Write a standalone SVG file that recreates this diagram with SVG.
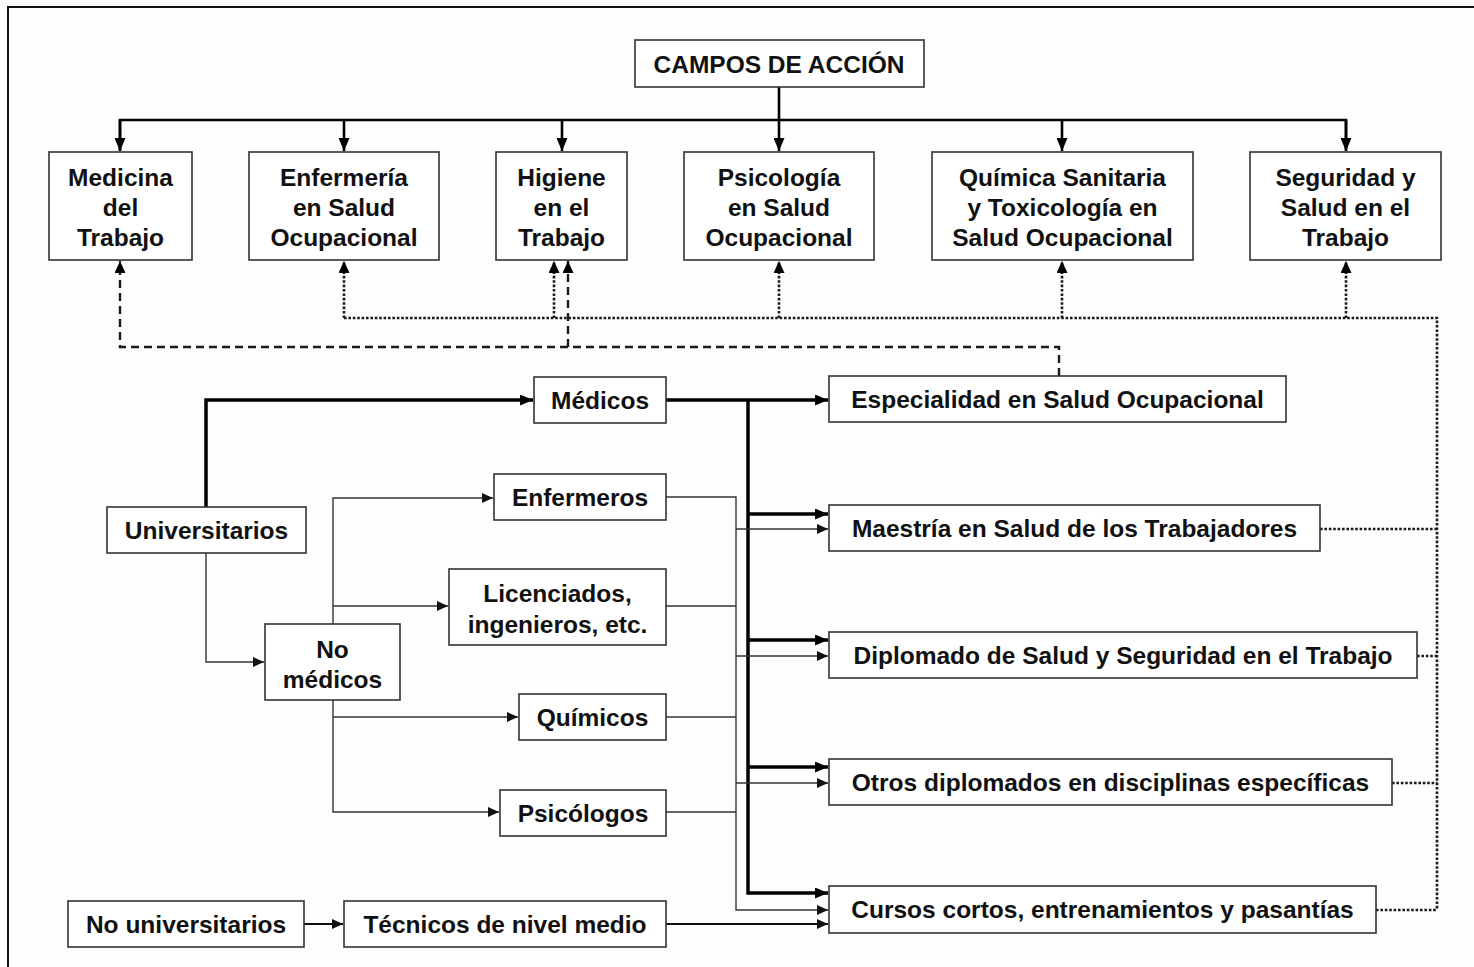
<svg xmlns="http://www.w3.org/2000/svg" width="1474" height="967" viewBox="0 0 1474 967">
<defs>
<style>
.box{fill:#fff;stroke:#333;stroke-width:1.6}
.t{font-family:"Liberation Sans",Arial,sans-serif;font-weight:bold;font-size:24.5px;fill:#111;text-anchor:middle}
.thick{fill:none;stroke:#000;stroke-width:3.5}
.tree{fill:none;stroke:#000;stroke-width:2.6}
.thin{fill:none;stroke:#333;stroke-width:1.4}
.med{fill:none;stroke:#111;stroke-width:2.2}
.dot{fill:none;stroke:#1a1a1a;stroke-width:2.6;stroke-dasharray:2.6 1.8}
.dash{fill:none;stroke:#1a1a1a;stroke-width:2.4;stroke-dasharray:8 5}
</style>
<marker id="ah" markerWidth="13" markerHeight="11" refX="13" refY="5.5" orient="auto" markerUnits="userSpaceOnUse"><path d="M0,0 L13,5.5 L0,11 z" fill="#000"/></marker>
<marker id="ahs" markerWidth="11" markerHeight="10" refX="11" refY="5" orient="auto" markerUnits="userSpaceOnUse"><path d="M0,0 L11,5 L0,10 z" fill="#111"/></marker>
<marker id="ahd" markerWidth="12" markerHeight="11" refX="12" refY="5.5" orient="auto" markerUnits="userSpaceOnUse"><path d="M0,0 L12,5.5 L0,11 z" fill="#000"/></marker>
</defs>
<rect x="0" y="0" width="1474" height="967" fill="#fdfdfd"/>
<path d="M8,967 V7 H1474" fill="none" stroke="#111" stroke-width="2"/>

<g id="connectors">
<path class="tree" d="M779,87 V120"/>
<path class="tree" d="M120,150 V120 H1346 V150"/>
<path class="tree" d="M120,120 V151" marker-end="url(#ah)"/>
<path class="tree" d="M344,120 V151" marker-end="url(#ah)"/>
<path class="tree" d="M562,120 V151" marker-end="url(#ah)"/>
<path class="tree" d="M779,120 V151" marker-end="url(#ah)"/>
<path class="tree" d="M1062,120 V151" marker-end="url(#ah)"/>
<path class="tree" d="M1346,120 V151" marker-end="url(#ah)"/>
<path class="dot" d="M344,318 H1437 V910"/>
<path class="dot" d="M344,318 V261" marker-end="url(#ahd)"/>
<path class="dot" d="M554,318 V261" marker-end="url(#ahd)"/>
<path class="dot" d="M779,318 V261" marker-end="url(#ahd)"/>
<path class="dot" d="M1062,318 V261" marker-end="url(#ahd)"/>
<path class="dot" d="M1346,318 V261" marker-end="url(#ahd)"/>
<path class="dot" d="M1320,529 H1437"/>
<path class="dot" d="M1417,656 H1437"/>
<path class="dot" d="M1392,783 H1437"/>
<path class="dot" d="M1376,910 H1437"/>
<path class="dash" d="M1059,376 V347 H120 V261" marker-end="url(#ahd)"/>
<path class="dash" d="M568,347 V261" marker-end="url(#ahd)"/>
<path class="thick" d="M206,507 V400 H533" marker-end="url(#ah)"/>
<path class="thick" d="M666,400 H828" marker-end="url(#ah)"/>
<path class="thick" d="M748,400 V893 H828" marker-end="url(#ah)"/>
<path class="thick" d="M748,514 H828" marker-end="url(#ah)"/>
<path class="thick" d="M748,640 H828" marker-end="url(#ah)"/>
<path class="thick" d="M748,767 H828" marker-end="url(#ah)"/>
<path class="thin" d="M206,553 V662 H264" marker-end="url(#ahs)"/>
<path class="thin" d="M333,624 V498 H493" marker-end="url(#ahs)"/>
<path class="thin" d="M333,606 H448" marker-end="url(#ahs)"/>
<path class="thin" d="M333,700 V812 H499" marker-end="url(#ahs)"/>
<path class="thin" d="M333,717 H518" marker-end="url(#ahs)"/>
<path class="thin" d="M666,497 H736 V910 H828" marker-end="url(#ahs)"/>
<path class="thin" d="M666,606 H736"/>
<path class="thin" d="M666,717 H736"/>
<path class="thin" d="M666,812 H736"/>
<path class="thin" d="M736,529 H828" marker-end="url(#ahs)"/>
<path class="thin" d="M736,656 H828" marker-end="url(#ahs)"/>
<path class="thin" d="M736,783 H828" marker-end="url(#ahs)"/>
<path class="med" d="M304,924 H343" marker-end="url(#ahs)"/>
<path class="med" d="M666,924 H828" marker-end="url(#ahs)"/>
</g>

<g id="campos"><rect class="box" x="635" y="40" width="289" height="47"/><text class="t" x="779" y="73">CAMPOS DE ACCIÓN</text></g>

<g id="medicina"><rect class="box" x="49" y="152" width="143" height="108"/><text class="t" x="120.5" y="186">Medicina</text><text class="t" x="120.5" y="216">del</text><text class="t" x="120.5" y="246">Trabajo</text></g>
<g id="enfermeria"><rect class="box" x="249" y="152" width="190" height="108"/><text class="t" x="344" y="186">Enfermería</text><text class="t" x="344" y="216">en Salud</text><text class="t" x="344" y="246">Ocupacional</text></g>
<g id="higiene"><rect class="box" x="496" y="152" width="131" height="108"/><text class="t" x="561.5" y="186">Higiene</text><text class="t" x="561.5" y="216">en el</text><text class="t" x="561.5" y="246">Trabajo</text></g>
<g id="psicologia"><rect class="box" x="684" y="152" width="190" height="108"/><text class="t" x="779" y="186">Psicología</text><text class="t" x="779" y="216">en Salud</text><text class="t" x="779" y="246">Ocupacional</text></g>
<g id="quimica"><rect class="box" x="932" y="152" width="261" height="108"/><text class="t" x="1062.5" y="186">Química Sanitaria</text><text class="t" x="1062.5" y="216">y Toxicología en</text><text class="t" x="1062.5" y="246">Salud Ocupacional</text></g>
<g id="seguridad"><rect class="box" x="1250" y="152" width="191" height="108"/><text class="t" x="1345.5" y="186">Seguridad y</text><text class="t" x="1345.5" y="216">Salud en el</text><text class="t" x="1345.5" y="246">Trabajo</text></g>

<g id="medicos"><rect class="box" x="534" y="377" width="132" height="46"/><text class="t" x="600" y="409">Médicos</text></g>
<g id="especialidad"><rect class="box" x="829" y="376" width="457" height="46"/><text class="t" x="1057.5" y="408">Especialidad en Salud Ocupacional</text></g>
<g id="universitarios"><rect class="box" x="107" y="507" width="199" height="46"/><text class="t" x="206.5" y="539">Universitarios</text></g>
<g id="enfermeros"><rect class="box" x="494" y="474" width="172" height="46"/><text class="t" x="580" y="506">Enfermeros</text></g>
<g id="maestria"><rect class="box" x="829" y="505" width="491" height="46"/><text class="t" x="1074.5" y="537">Maestría en Salud de los Trabajadores</text></g>
<g id="licenciados"><rect class="box" x="449" y="569" width="217" height="76"/><text class="t" x="557.5" y="602">Licenciados,</text><text class="t" x="557.5" y="633">ingenieros, etc.</text></g>
<g id="nomedicos"><rect class="box" x="265" y="624" width="135" height="76"/><text class="t" x="332.5" y="658">No</text><text class="t" x="332.5" y="688">médicos</text></g>
<g id="diplomado"><rect class="box" x="829" y="632" width="588" height="46"/><text class="t" x="1123" y="664">Diplomado de Salud y Seguridad en el Trabajo</text></g>
<g id="quimicos"><rect class="box" x="519" y="694" width="147" height="46"/><text class="t" x="592.5" y="726">Químicos</text></g>
<g id="otros"><rect class="box" x="829" y="759" width="563" height="46"/><text class="t" x="1110.5" y="791">Otros diplomados en disciplinas específicas</text></g>
<g id="psicologos"><rect class="box" x="500" y="790" width="166" height="46"/><text class="t" x="583" y="822">Psicólogos</text></g>
<g id="cursos"><rect class="box" x="829" y="886" width="547" height="47"/><text class="t" x="1102.5" y="918">Cursos cortos, entrenamientos y pasantías</text></g>
<g id="nouniversitarios"><rect class="box" x="68" y="901" width="236" height="46"/><text class="t" x="186" y="933">No universitarios</text></g>
<g id="tecnicos"><rect class="box" x="344" y="901" width="322" height="46"/><text class="t" x="505" y="933">Técnicos de nivel medio</text></g>
</svg>
